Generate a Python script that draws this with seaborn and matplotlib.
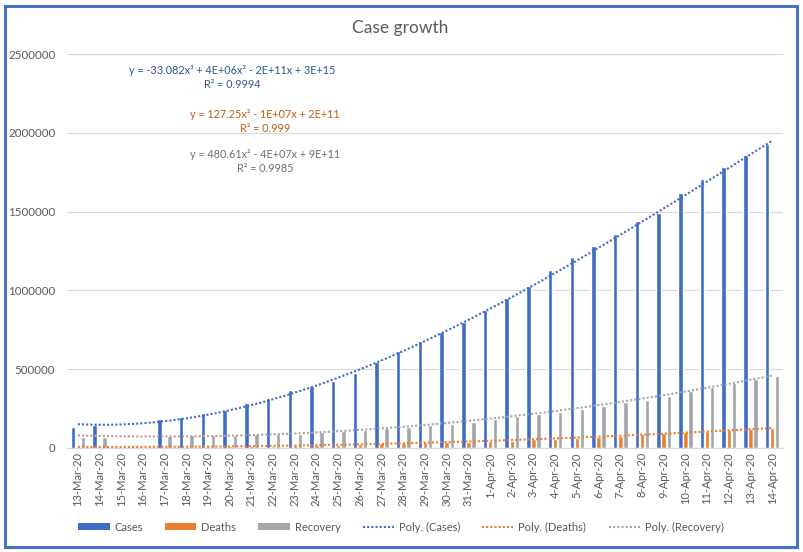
import numpy as np
import pandas as pd
import matplotlib
matplotlib.use("Agg")
import matplotlib.pyplot as plt
import seaborn as sns
from matplotlib.patches import Patch, Rectangle
from matplotlib.lines import Line2D

# ---------------- data ----------------
dates = ["13-Mar-20", "14-Mar-20", "15-Mar-20", "16-Mar-20", "17-Mar-20", "18-Mar-20",
         "19-Mar-20", "20-Mar-20", "21-Mar-20", "22-Mar-20", "23-Mar-20", "24-Mar-20",
         "25-Mar-20", "26-Mar-20", "27-Mar-20", "28-Mar-20", "29-Mar-20", "30-Mar-20",
         "31-Mar-20", "1-Apr-20", "2-Apr-20", "3-Apr-20", "4-Apr-20", "5-Apr-20",
         "6-Apr-20", "7-Apr-20", "8-Apr-20", "9-Apr-20", "10-Apr-20", "11-Apr-20",
         "12-Apr-20", "13-Apr-20", "14-Apr-20"]
nan = np.nan
cases = [132000, 146000, nan, nan, 184000, 197000, 222000, 241000, 286000, 317000,
         368000, 393000, 427000, 478000, 548000, 615000, 679000, 734000, 800000,
         874000, 950000, 1028000, 1129000, 1212000, 1282000, 1358000, 1440000,
         1493000, 1618000, 1707000, 1783000, 1859000, 1931000]
deaths = [5400, 5800, nan, nan, 7900, 8900, 10000, 11200, 13000, 14600, 16500, 17000,
          21000, 23000, 30000, 32000, 35000, 36000, 40000, 43000, 47000, 54000, 59000,
          65000, 72000, 78000, 87000, 93000, 99000, 106000, 112000, 119000, 125000]
recovery = [70000, 71000, nan, nan, 76000, 80000, 81000, 83000, 86000, 88000, 92000,
            100000, 108000, 116000, 129000, 135000, 148000, 154000, 165000, 186000,
            205000, 216000, 230000, 247000, 266000, 294000, 305000, 332000, 364000,
            389000, 410000, 440000, 457000]
series_names = ["Cases", "Deaths", "Recovery"]
trend_names = ["Poly. (Cases)", "Poly. (Deaths)", "Poly. (Recovery)"]
trend_orders = [3, 2, 2]
yticks = [0, 500000, 1000000, 1500000, 2000000, 2500000]
title = "Case growth"
eq_cases = ["y = -33.082x³ + 4E+06x² - 2E+11x + 3E+15", "R² = 0.9994"]
eq_deaths = ["y = 127.25x² - 1E+07x + 2E+11", "R² = 0.999"]
eq_recovery = ["y = 480.61x² - 4E+07x + 9E+11", "R² = 0.9985"]

# ---------------- style ----------------
colors = ["#3F6CC6", "#ED7D31", "#A5A5A5"]
eq_colors = ["#2F5597", "#C55A11", "#6F6F6F"]
text_col = "#595959"
grid_col = "#D9D9D9"
dot_ls = (0, (1, 1))
dot_lw = 1.5

sns.set_theme(style="white")
plt.rcParams['font.family'] = ['Lato', 'DejaVu Sans']

W, H = 804, 552
fig = plt.figure(figsize=(W / 100, H / 100), dpi=100)
fig.patch.set_facecolor("white")
ax = fig.add_axes([67 / W, 1 - 448 / H, (783 - 67) / W, (448 - 54) / H])

df = pd.DataFrame({
    "date": dates * 3,
    "series": np.repeat(series_names, len(dates)),
    "value": np.array(cases + deaths + recovery, dtype=float),
})
sns.barplot(data=df, x="date", y="value", hue="series", order=dates,
            hue_order=series_names, palette=colors, width=0.7, gap=0.12,
            saturation=1, errorbar=None, legend=False, ax=ax, zorder=2)

xi = np.arange(len(dates), dtype=float)
for vals, col, order in zip([cases, deaths, recovery], colors, trend_orders):
    sns.regplot(x=xi, y=np.array(vals, dtype=float), order=order, scatter=False,
                ci=None, truncate=True, ax=ax,
                line_kws=dict(color=col, lw=dot_lw, ls=dot_ls, zorder=3))

ax.set_xlim(-0.5, len(dates) - 0.5)
ax.set_ylim(0, 2500000)
ax.set_xlabel("")
ax.set_ylabel("")
ax.set_yticks(yticks)
ax.set_yticklabels([str(v) for v in yticks])
ax.set_xticks(np.arange(len(dates)))
ax.set_xticklabels(dates, rotation=90)
ax.set_xticks(np.arange(-0.5, len(dates), 1), minor=True)
ax.tick_params(axis="x", which="major", length=0, pad=3, labelsize=8, labelcolor=text_col)
ax.tick_params(axis="x", which="minor", length=5, width=0.8, color=grid_col, direction="out")
ax.tick_params(axis="y", length=0, pad=8.5, labelsize=8.3, labelcolor=text_col)
ax.yaxis.grid(True, color=grid_col, lw=0.8)
ax.set_axisbelow(True)
for s in ["top", "right", "left"]:
    ax.spines[s].set_visible(False)
ax.spines["bottom"].set_color(grid_col)
ax.spines["bottom"].set_linewidth(0.8)
ax.set_facecolor("none")

# title
fig.text(400 / W, 1 - 28 / H, title, ha="center", va="center", fontsize=12.5, color=text_col)

# trendline equations
def ptext(x, y, s, c):
    fig.text(x / W, 1 - y / H, s, ha="center", va="center", fontsize=7.8, color=c)

ptext(232, 70, eq_cases[0], eq_colors[0])
ptext(232, 84, eq_cases[1], eq_colors[0])
ptext(265, 114, eq_deaths[0], eq_colors[1])
ptext(265, 129, eq_deaths[1], eq_colors[1])
ptext(265, 154, eq_recovery[0], eq_colors[2])
ptext(265, 168, eq_recovery[1], eq_colors[2])

# legend
handles = [Patch(facecolor=c, edgecolor="none") for c in colors]
handles += [Line2D([0], [0], color=c, lw=dot_lw, ls=dot_ls) for c in colors]
leg = fig.legend(handles, series_names + trend_names, loc="center",
                 bbox_to_anchor=(401 / W, 1 - 527 / H), ncol=6, frameon=False,
                 fontsize=8, handlelength=2.8, handleheight=0.6, handletextpad=0.45,
                 columnspacing=2.0, labelcolor=text_col)

# outer chart border
fig.patches.append(Rectangle((5.5 / W, 5.5 / H), (797.5 - 5.5) / W, (546.5 - 5.5) / H,
                             transform=fig.transFigure, fill=False,
                             edgecolor="#4472C4", lw=2.2))

fig.savefig("out.png", dpi=100)
